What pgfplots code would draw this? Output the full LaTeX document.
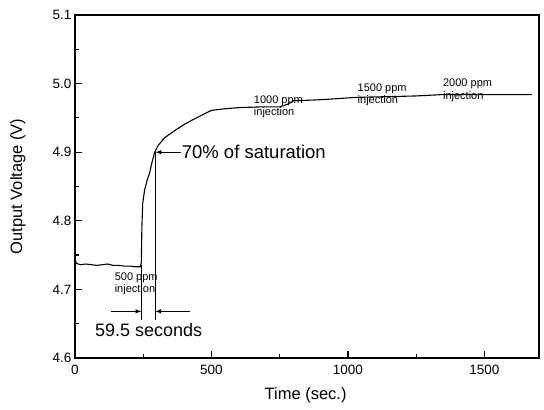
\documentclass[border=0pt]{standalone}
\usepackage{fontspec}
\setmainfont{Liberation Sans}
\usepackage{pgfplots}
\pgfplotsset{compat=1.18}
\begin{document}
\begin{tikzpicture}
\begin{axis}[
    scale only axis,
    width=464bp, height=343bp,
    xmin=0, xmax=1700,
    ymin=4.6, ymax=5.1,
    xtick={0,500,1000,1500},
    ytick={4.6,4.7,4.8,4.9,5.0,5.1},
    minor x tick num=1,
    minor y tick num=1,
    xtick pos=lower, ytick pos=left,
    tick align=inside,
    major tick length=7bp, minor tick length=4bp,
    axis line style={line width=1.6bp},
    every tick/.style={black, line width=1.2bp},
    /pgf/number format/assume math mode=true,
    /pgf/number format/1000 sep={},
    yticklabel style={/pgf/number format/fixed, /pgf/number format/fixed zerofill, /pgf/number format/precision=1},
    xticklabel style={yshift=-4bp},
    tick label style={font=\fontsize{13.5bp}{15bp}\selectfont},
    label style={font=\fontsize{16.5bp}{19bp}\selectfont},
    xlabel={Time (sec.)},
    ylabel={Output Voltage (V)},
    xlabel style={at={(axis description cs:0.497,-0.108)}, anchor=center},
    ylabel style={at={(axis description cs:-0.123,0.5)}, anchor=center},
]
\addplot[black, line width=1.1bp, mark=none] coordinates {
(0,4.745) (5,4.738) (20,4.736) (40,4.737) (60,4.736) (80,4.735) (100,4.736)
(120,4.737) (140,4.735) (160,4.735) (180,4.734) (200,4.734) (220,4.733)
(240,4.733) (243,4.740) (245,4.790) (248,4.825) (255,4.845) (265,4.860)
(273,4.869) (282,4.885) (292,4.900) (305,4.910) (328,4.921) (360,4.930)
(394,4.939) (430,4.947) (470,4.955) (500,4.961) (541,4.963) (600,4.965)
(677,4.966) (750,4.966) (780,4.970) (800,4.975) (872,4.976) (922,4.977)
(1032,4.980) (1150,4.981) (1250,4.982) (1348,4.984) (1450,4.984)
(1550,4.984) (1674,4.984)
};
% markers for the 59.5 s interval
\draw[line width=1.1bp] (axis cs:243,4.735) -- (axis cs:243,4.656);
\draw[line width=1.1bp] (axis cs:294,4.900) -- (axis cs:294,4.656);
\draw[line width=1bp, -latex] (axis cs:133,4.668) -- (axis cs:243,4.668);
\draw[line width=1bp, -latex] (axis cs:420,4.668) -- (axis cs:294,4.668);
\node[font=\fontsize{18bp}{20bp}\selectfont] at (axis cs:270,4.641) {59.5 seconds};
\draw[line width=1bp, -latex] (axis cs:387,4.9) -- (axis cs:295,4.9);
\node[anchor=west, inner sep=1bp, font=\fontsize{18.5bp}{20bp}\selectfont] at (axis cs:387,4.9) {70\% of saturation};
% injection notes
\node[anchor=north west, inner sep=0pt, align=left, font=\fontsize{11bp}{12.5bp}\selectfont] at (axis cs:145,4.725) {500 ppm\\injection};
\node[anchor=north west, inner sep=0pt, align=left, font=\fontsize{11bp}{12.5bp}\selectfont] at (axis cs:655,4.983) {1000 ppm\\injection};
\node[anchor=north west, inner sep=0pt, align=left, font=\fontsize{11bp}{12.5bp}\selectfont] at (axis cs:1035,5.000) {1500 ppm\\injection};
\node[anchor=north west, inner sep=0pt, align=left, font=\fontsize{11bp}{12.5bp}\selectfont] at (axis cs:1348,5.007) {2000 ppm\\injection};
\end{axis}
\pgfresetboundingbox
\path ([shift={(-75bp,-52bp)}]current axis.south west) rectangle ([shift={(5bp,15bp)}]current axis.north east);
\end{tikzpicture}
\end{document}
